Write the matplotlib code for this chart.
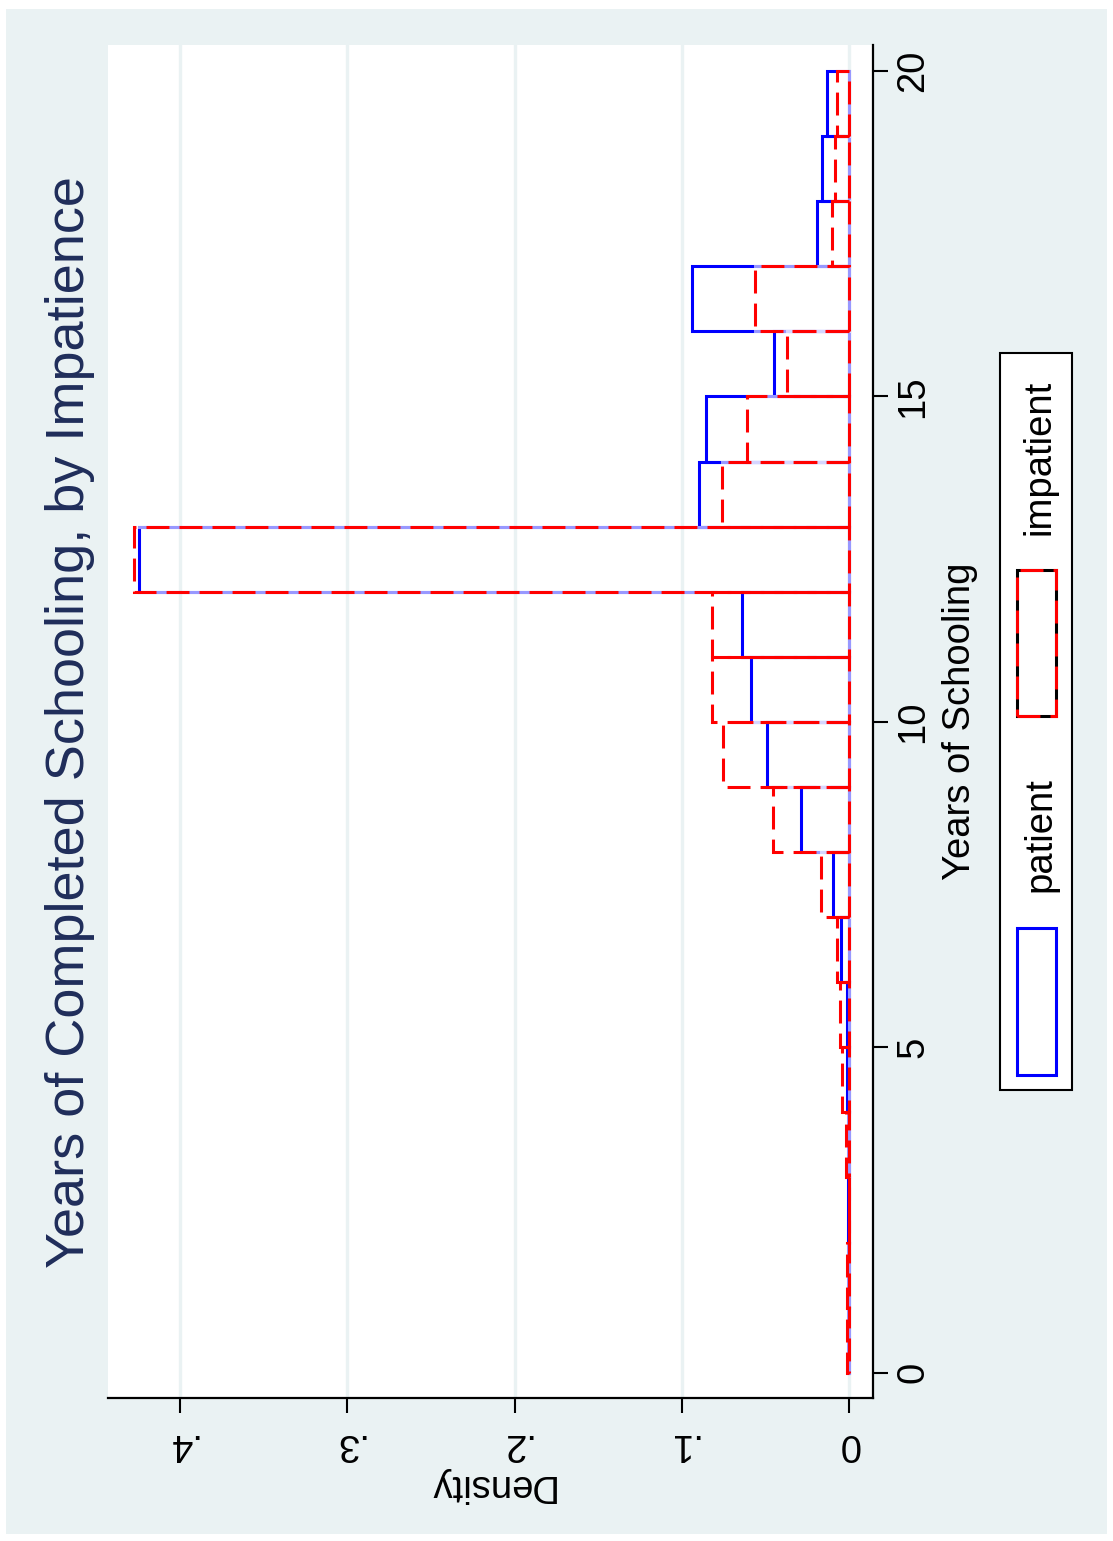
import matplotlib
matplotlib.use('Agg')
import matplotlib.pyplot as plt
from matplotlib.patches import Rectangle

plt.rcParams['font.family'] = ['Liberation Sans', 'DejaVu Sans']

# histogram bins: one bar per year of schooling, 0..20
bin_starts = list(range(20))
bin_width = 1
patient = [0.0006, 0.0006, 0.0008, 0.0009, 0.0014, 0.0014, 0.0048, 0.0094, 0.0285, 0.0492,
           0.0586, 0.0642, 0.4245, 0.0897, 0.0855, 0.0447, 0.0941, 0.0190, 0.0160, 0.0133]
impatient = [0.0012, 0.0012, 0.0003, 0.0018, 0.0040, 0.0054, 0.0074, 0.0167, 0.0453, 0.0755,
             0.0818, 0.0821, 0.4274, 0.0761, 0.0612, 0.0373, 0.0562, 0.0104, 0.0084, 0.0070]
density_ticks = [0, 0.1, 0.2, 0.3, 0.4]
density_labels = ['0', '.1', '.2', '.3', '.4']
year_ticks = [0, 5, 10, 15, 20]

bg = '#EAF2F3'
title_col = '#1F2D5A'
W, H = 1113, 1541

fig = plt.figure(figsize=(W / 100, H / 100), dpi=100, facecolor='white')
# light page background with a thin white border
fig.patches.append(Rectangle((6 / W, 1 - 1534 / H), 1101 / W, 1525 / H,
                             transform=fig.transFigure, facecolor=bg,
                             edgecolor='none', zorder=-10))

ax = fig.add_axes([108 / W, 1 - 1398 / H, 765 / W, 1353 / H])
ax.set_facecolor('white')

# whole graph is turned on its side: density runs right-to-left, years bottom-to-top
ax.set_xlim(0.4432, -0.01435)
ax.set_ylim(-0.389, 20.40)

ax.barh(bin_starts, patient, height=bin_width, align='edge', left=0,
        fill=False, edgecolor='#0000FF', linewidth=2.2, zorder=3)
# pale underlay so the gaps of the dashed outline look washed out
ax.barh(bin_starts, impatient, height=bin_width, align='edge', left=0,
        fill=False, edgecolor=(1, 1, 1, 0.6), linewidth=2.2, zorder=4)
ax.barh(bin_starts, impatient, height=bin_width, align='edge', left=0,
        fill=False, edgecolor='#FF0000', linewidth=2.2,
        linestyle=(0, (7.5, 3.3)), zorder=5)

# spines: only the two axes that carry ticks
for s in ['top', 'left']:
    ax.spines[s].set_visible(False)
for s in ['bottom', 'right']:
    ax.spines[s].set_linewidth(1.6)
    ax.spines[s].set_color('black')

ax.set_xticks(density_ticks)
ax.set_xticklabels(density_labels, rotation=180, fontsize=27.5)
ax.tick_params(axis='x', direction='out', length=11, width=1.5, pad=9)
ax.grid(axis='x', color=bg, linewidth=2.4)
ax.set_axisbelow(True)

ax.yaxis.tick_right()
ax.yaxis.set_label_position('right')
ax.set_yticks(year_ticks)
ax.set_yticklabels([str(t) for t in year_ticks], rotation=90, va='center', fontsize=27.5)
ax.tick_params(axis='y', direction='out', length=11, width=1.5, pad=5)

ax.set_xlabel('Density', rotation=180, fontsize=27.5, labelpad=4)
ax.set_ylabel('Years of Schooling', rotation=90, fontsize=27.5, labelpad=8)

fig.text(70 / W, 1 - 722 / H, 'Years of Completed Schooling, by Impatience',
         rotation=90, ha='center', va='center', fontsize=39, color=title_col)

# legend, drawn by hand to sit sideways on the right
fig.patches.append(Rectangle((1000 / W, 1 - 1090 / H), 72 / W, 737 / H,
                             transform=fig.transFigure, facecolor='white',
                             edgecolor='black', linewidth=1.5))
fig.patches.append(Rectangle((1017 / W, 1 - 1075 / H), 39 / W, 147 / H,
                             transform=fig.transFigure, facecolor='white',
                             edgecolor='#0000FF', linewidth=2.2))
fig.patches.append(Rectangle((1017 / W, 1 - 716 / H), 39 / W, 146 / H,
                             transform=fig.transFigure, facecolor='white',
                             edgecolor='black', linewidth=2.2))
fig.patches.append(Rectangle((1017 / W, 1 - 716 / H), 39 / W, 146 / H,
                             transform=fig.transFigure, facecolor='none',
                             edgecolor='#FF0000', linewidth=2.2,
                             linestyle=(0, (7.5, 3.3))))
fig.text(1040 / W, 1 - 835 / H, 'patient', rotation=90, ha='center', va='center',
         fontsize=27.5)
fig.text(1040 / W, 1 - 457 / H, 'impatient', rotation=90, ha='center', va='center',
         fontsize=27.5)

fig.savefig('out.png', dpi=100, facecolor=fig.get_facecolor())
